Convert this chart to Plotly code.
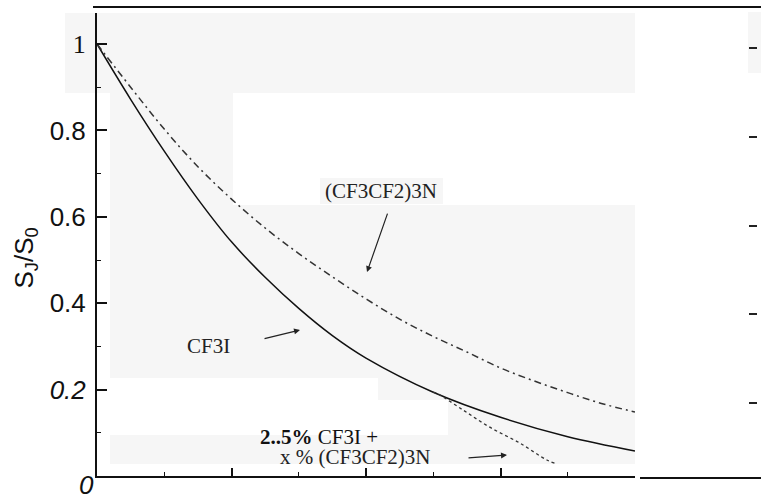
import plotly.graph_objects as go

# ---- data ----
cf3i_x = [0, 0.5, 1, 1.5, 2, 2.5, 3, 3.5, 4, 5, 6, 7, 8]
cf3i_y = [1.0, 0.872, 0.752, 0.641, 0.542, 0.460, 0.388, 0.325, 0.273, 0.194, 0.136, 0.091, 0.058]

pfn_x = [0, 0.5, 1, 1.5, 2, 2.5, 3, 3.5, 4, 4.5, 5, 5.5, 6, 6.5, 7, 7.5, 8]
pfn_y = [1.0, 0.900, 0.803, 0.716, 0.641, 0.574, 0.515, 0.461, 0.410, 0.363, 0.323, 0.287, 0.250, 0.220, 0.193, 0.168, 0.148]

mix_x = [5.0, 5.07, 5.44, 5.84, 6.29, 6.69, 6.84]
mix_y = [0.194, 0.190, 0.153, 0.113, 0.076, 0.037, 0.028]

ytick_vals = [0.2, 0.4, 0.6, 0.8, 1.0]
ytick_text = ["<i>0.2</i>", "0.4", "0.6", "0.8",
              "<span style='font-family:Liberation Serif'>1</span>"]
zero_label = "<i>0</i>"
right_tick_vals = [0.2, 0.4, 0.6, 0.8, 1.0]

# ---- layout geometry (pixels of the 761x494 page) ----
W, H = 761, 494
L, R, T, B = 97, 0, 13, 18
PW, PH = W - L - R, H - T - B
X_END = 635


def px(x):
    return (x - L) / PW


def py(y):
    return (H - B - y) / PH


fig = go.Figure()
fig.add_trace(go.Scatter(x=cf3i_x, y=cf3i_y, mode="lines", line=dict(color="#111", width=1.5),
                         line_shape="spline", showlegend=False))
fig.add_trace(go.Scatter(x=pfn_x, y=pfn_y, mode="lines",
                         line=dict(color="#333", width=1.5, dash="7px,4px,2px,4px"),
                         line_shape="spline", showlegend=False))
fig.add_trace(go.Scatter(x=mix_x, y=mix_y, mode="lines", line=dict(color="#333", width=1.3, dash="dot"),
                         line_shape="spline", showlegend=False))
fig.add_trace(go.Scatter(x=[None], y=[None], yaxis="y2", showlegend=False))

# light grey scan patches
patches = [(65, 13, 635, 93), (110, 93, 233, 378), (233, 205, 635, 378), (320, 178, 443, 204),
           (378, 378, 635, 400), (448, 400, 635, 464), (110, 435, 448, 464), (748, 12, 761, 73)]
shapes = []
for x0, y0, x1, y1 in patches:
    shapes.append(dict(type="rect", xref="paper", yref="paper", x0=px(x0), x1=px(x1),
                       y0=py(y1), y1=py(y0), fillcolor="#f6f6f6", line=dict(width=0), layer="below"))
shapes.append(dict(type="line", xref="paper", yref="paper", x0=px(93), x1=px(761), y0=py(7), y1=py(7),
                   line=dict(color="#111", width=2)))
shapes.append(dict(type="line", xref="paper", yref="paper", x0=px(640), x1=px(761), y0=py(478), y1=py(478),
                   line=dict(color="#111", width=2)))

serif = dict(family="Liberation Serif", size=21, color="#222")
arrow = dict(text="", showarrow=True, arrowhead=2, arrowsize=1, arrowwidth=1.2, arrowcolor="#222")
annotations = [
    dict(x=4.223, y=0.66, text="(CF3CF2)3N", showarrow=False, font=serif),
    dict(x=1.665, y=0.301, text="CF3I", showarrow=False, font=serif),
    dict(x=3.30, y=0.090, text="<b>2..5%</b> CF3I +", showarrow=False,
         font=dict(family="Liberation Serif", size=21, color="#111")),
    dict(x=3.85, y=0.044, text="x % (CF3CF2)3N", showarrow=False, font=serif),
    dict(x=4.015, y=0.472, ax=21, ay=-60, **arrow),
    dict(x=3.019, y=0.338, ax=-37, ay=9, **arrow),
    dict(x=6.097, y=0.0486, ax=-40, ay=3, **arrow),
    dict(xref="paper", yref="paper", x=px(6), y=py(258), text="S<sub>J</sub>/S<sub>0</sub>", textangle=-90,
         showarrow=False, font=dict(family="Liberation Sans", size=26, color="#111")),
    dict(xref="paper", yref="paper", x=px(77), y=py(468), yanchor="top", text=zero_label, showarrow=False,
         font=dict(family="Liberation Sans", size=26, color="#111")),
]

y_top = (H - B - T) / 432.0

fig.update_layout(
    width=W, height=H, margin=dict(l=L, r=R, t=T, b=B),
    paper_bgcolor="white", plot_bgcolor="rgba(0,0,0,0)",
    shapes=shapes, annotations=annotations,
    xaxis=dict(domain=[0, px(X_END)], range=[0, 8], showgrid=False, zeroline=False,
               showline=True, linecolor="#111", linewidth=2,
               ticks="inside", ticklen=8, tickwidth=1.5, tickcolor="#111", dtick=2, tick0=0,
               showticklabels=False,
               minor=dict(ticks="inside", ticklen=4, dtick=1, tickcolor="#111", tickwidth=1.2)),
    yaxis=dict(range=[0, y_top], showgrid=False, zeroline=False, showline=True, linecolor="#111", linewidth=2,
               ticks="inside", ticklen=10, tickwidth=2, tickcolor="#111",
               tickvals=ytick_vals, ticktext=ytick_text, ticklabelstandoff=4,
               tickfont=dict(family="Liberation Sans", size=26, color="#111"),
               minor=dict(ticks="inside", ticklen=4, dtick=0.1, tickcolor="#111", tickwidth=1.2)),
    yaxis2=dict(overlaying="y", side="right", anchor="free", position=px(748),
                range=[(491.75 - (H - B)) / 443.75, (491.75 - T) / 443.75],
                showgrid=False, zeroline=False, showline=False, ticks="outside", ticklen=8, tickwidth=2,
                tickcolor="#222", tickvals=right_tick_vals, showticklabels=False),
)

fig.write_html("out.html", config={"displayModeBar": False},
               post_script="document.body.style.margin='0';document.body.style.overflow='hidden';")
